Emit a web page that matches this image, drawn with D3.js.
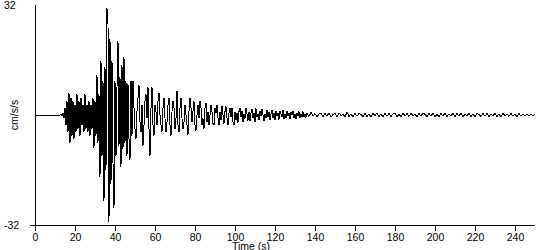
<!DOCTYPE html>
<html><head><meta charset="utf-8">
<script src="https://cdn.jsdelivr.net/npm/d3@7"></script>
<style>
body{margin:0;background:#fff}
svg{display:block}
text{font-family:"Liberation Sans",Arial,sans-serif;font-size:10.5px;fill:#000}
</style>
</head><body>
<svg id="chart" width="550" height="250"></svg>
<script>
// ---- data ----
const xTickValues = [0, 20, 40, 60, 80, 100, 120, 140, 160, 180, 200, 220, 240];
const yLabelValues = [32, -32];
const xTitle = "Time (s)";
const yTitle = "cm/s/s";

// acceleration (cm/s/s), sampled every 0.5 s starting at t = 0 s
const mainStep = 0.5;
const mainValues = [
  // 0 - 13.5 s (pre-event)
  0,0,0,0,0,0,0,0,0,0, 0,0,0,0,0,0,0,0,0,0, 0,0,0,0,0,0,0.2,-0.2,
  // 14 - 30.5 s
  0.5,-0.8,2,-3,4,-5,6.4,-8,5,-6, 4,-7,3,-5,6,-4,4,-6,5,-3,
  3,-5,6,-4,3,-5,4,-6,3,-4, 5,-9.5,4,-6,
  // 31 - 48 s (strong motion)
  11.6,-8,6,-18,15.7,-12,10,-25,14,-16, 31,26.5,-31,22,-20,15.7,-14,-27,10,-12,
  8,21.5,-9,11,-15,14.5,-10,17,-8,10, -12,9,-7,-13,10,
  // 48.5 - 60 s
  -6,10,2,-4,-7,1,5,8.7,-2,-5, 3,-9,-3,4,6,-1,8,-4,-12,2, 8,-3,-6,3,
  // 60.5 - 72 s
  1,-3,4,6.4,0,-3,-4.9,2,5,-1, -5,-2,3,5,-3,-6,1,4,2,-4, -1,7,-3,-5,
  // 72.5 - 100 s
  2,5,-1,-4,-2,3,0,-3,-5.8,1, 5,2,-2,1,4,-3,-4.5,0,3,-1,
  4,2,-3,-1,-4,2,3.6,-2,1,-3, 0,3,1,-2.5,-3,2,0.5,3,-1,-3,
  1,-1.5,2.5,0,-2.5,1,2.5,-1,-3,0.5, 2,-0.5,2,-2,-3,1,
  // 100.5 - 135.5 s
  -1.5,0.5,-2.2,1,2,-0.5,1.2,-2,0.3,-1, 2.1,0.2,-1.6,1,-1.8,0.5,1.8,-0.8,0.6,-2,
  1.9,-0.5,0.3,-1.5,1.2,-0.4,1.6,0,-1.7,0.4, -0.8,1.5,-0.6,0.8,-1.4,0.2,1.5,-1,0.7,-1.5,
  1.2,-0.3,0.5,-1.3,1.1,0.2,-0.6,1.4,-1.2,0.3, -0.9,1.1,-0.4,0.6,-1.2,0.9,0,1.2,-0.8,0.2,
  -1.1,0.7,-0.3,1,-0.9,0.4,-0.6,1,-0.7,0.3, -0.7
];

// coda, sampled every 1 s from t = 136 s to 250 s
const tailStart = 136;
const tailStep = 1;
const tailValues = [
  0.5,-0.4,0.7,-0.3,0.4,-0.6,0.3,0.6,-0.5,0.4,
  -0.3,0.5,-0.6,0.2,0.4,-0.5,0.6,-0.2,0.3,-0.5,
  0.8,-0.4,0.3,-0.6,0.5,-0.3,0.4,0.2,-0.5,0.6,
  -0.4,0.3,-0.5,0.4,-0.2,0.6,-0.4,0.3,-0.6,0.5,
  -0.3,0.4,-0.5,0.3,0.5,-0.4,0.2,-0.5,0.6,-0.3,
  0.4,-0.4,0.5,-0.2,0.3,-0.6,0.4,-0.3,0.5,0.2,
  -0.5,0.4,-0.3,0.6,-0.4,0.2,-0.5,0.4,-0.3,0.5,
  -0.4,0.3,-0.2,0.5,-0.5,0.4,-0.3,0.6,-0.4,0.2,
  -0.3,0.5,-0.4,0.3,-0.5,0.4,0.1,-0.4,0.5,-0.3,
  0.4,-0.5,0.3,-0.2,0.5,-0.4,0.3,-0.5,0.4,-0.2,
  0.3,-0.4,0.5,-0.3,0.2,-0.4,0.4,-0.3,0.3,-0.2,
  0.3,-0.3,0.2,-0.2,0.1
];

const series = mainValues.map((v, i) => ({t: i * mainStep, v}))
  .concat(tailValues.map((v, i) => ({t: tailStart + i * tailStep, v})));

// ---- drawing ----
const svg = d3.select("#chart");
const x = d3.scaleLinear().domain([0, 250]).range([35, 535]);
const y = d3.scaleLinear().domain([-32, 32]).range([225, 5]);

// waveform
const line = d3.line().x(d => x(d.t)).y(d => y(d.v));
svg.append("path")
  .datum(series)
  .attr("d", line)
  .attr("fill", "none")
  .attr("stroke", "#000")
  .attr("stroke-width", 1)
  .attr("shape-rendering", "crispEdges");

// y axis line (no ticks)
svg.append("line")
  .attr("x1", x(0) + 0.5).attr("x2", x(0) + 0.5)
  .attr("y1", y(32)).attr("y2", y(-32))
  .attr("stroke", "#000").attr("shape-rendering", "crispEdges");

// x axis
const xAxis = d3.axisBottom(x).tickValues(xTickValues).tickSize(5).tickPadding(3).tickSizeOuter(0);
const gx = svg.append("g").attr("transform", `translate(0,${y(-32) + 0.5})`).call(xAxis);
gx.select(".domain").remove();
gx.selectAll(".tick line").attr("stroke", "#000").attr("shape-rendering", "crispEdges");
gx.selectAll(".tick text").attr("font-family", null).attr("font-size", null).attr("fill", "#000");
gx.append("line")
  .attr("x1", x(0) - 5).attr("x2", x(250))
  .attr("y1", 0).attr("y2", 0)
  .attr("stroke", "#000").attr("shape-rendering", "crispEdges");

// y labels (min / max)
svg.selectAll(".ylab").data(yLabelValues).join("text")
  .attr("class", "ylab")
  .attr("x", 4)
  .attr("y", d => y(d) + 4)
  .text(d => d);

// axis titles
svg.append("text")
  .attr("transform", `translate(18,${y(0)}) rotate(-90)`)
  .attr("text-anchor", "middle")
  .text(yTitle);

svg.append("text")
  .attr("x", 251).attr("y", 250)
  .attr("text-anchor", "middle")
  .text(xTitle);
</script>
</body></html>
